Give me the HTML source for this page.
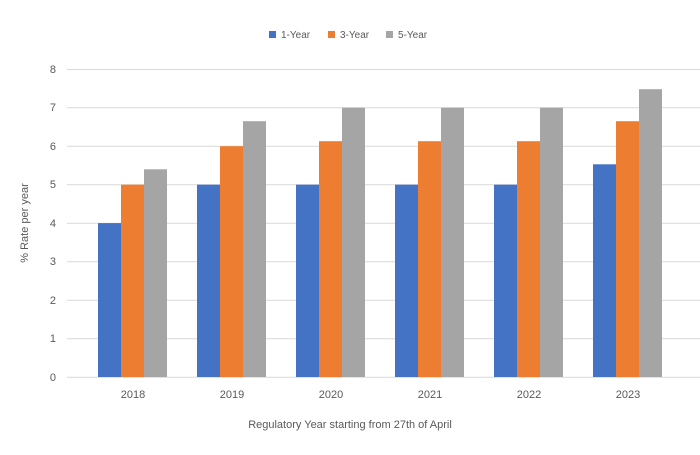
<!DOCTYPE html>
<html><head><meta charset="utf-8"><style>body{margin:0;background:#fff}</style></head>
<body>
<svg width="700" height="450" xmlns="http://www.w3.org/2000/svg" font-family="Liberation Sans, sans-serif">
<rect width="700" height="450" fill="#fff"/>
<g stroke="#d9d9d9" stroke-width="1">
<line x1="67" x2="700" y1="69.5" y2="69.5"/><line x1="67" x2="700" y1="107.8" y2="107.8"/>
<line x1="67" x2="700" y1="146.3" y2="146.3"/><line x1="67" x2="700" y1="184.8" y2="184.8"/>
<line x1="67" x2="700" y1="223.3" y2="223.3"/><line x1="67" x2="700" y1="261.8" y2="261.8"/>
<line x1="67" x2="700" y1="300.3" y2="300.3"/><line x1="67" x2="700" y1="338.8" y2="338.8"/>
<line x1="67" x2="700" y1="377.3" y2="377.3"/>
</g>
<g font-size="11" fill="#595959" text-anchor="end">
<text x="56" y="73">8</text><text x="56" y="111">7</text><text x="56" y="150">6</text><text x="56" y="188">5</text>
<text x="56" y="227">4</text><text x="56" y="265">3</text><text x="56" y="304">2</text><text x="56" y="342">1</text><text x="56" y="381">0</text>
</g>
<g>
<rect x="98" y="223.1" width="23" height="153.9" fill="#4472c4"/>
<rect x="121" y="184.65" width="23" height="192.35" fill="#ed7d31"/>
<rect x="144" y="169.3" width="23" height="207.7" fill="#a5a5a5"/>

<rect x="197" y="184.65" width="23" height="192.35" fill="#4472c4"/>
<rect x="220" y="146.2" width="23" height="230.8" fill="#ed7d31"/>
<rect x="243" y="121.2" width="23" height="255.8" fill="#a5a5a5"/>

<rect x="296" y="184.65" width="23" height="192.35" fill="#4472c4"/>
<rect x="319" y="141.2" width="23" height="235.8" fill="#ed7d31"/>
<rect x="342" y="107.7" width="23" height="269.3" fill="#a5a5a5"/>

<rect x="395" y="184.65" width="23" height="192.35" fill="#4472c4"/>
<rect x="418" y="141.2" width="23" height="235.8" fill="#ed7d31"/>
<rect x="441" y="107.7" width="23" height="269.3" fill="#a5a5a5"/>

<rect x="494" y="184.65" width="23" height="192.35" fill="#4472c4"/>
<rect x="517" y="141.2" width="23" height="235.8" fill="#ed7d31"/>
<rect x="540" y="107.7" width="23" height="269.3" fill="#a5a5a5"/>

<rect x="593" y="164.3" width="23" height="212.7" fill="#4472c4"/>
<rect x="616" y="121.2" width="23" height="255.8" fill="#ed7d31"/>
<rect x="639" y="89.2" width="23" height="287.8" fill="#a5a5a5"/>
</g>
<g font-size="11" fill="#595959" text-anchor="middle">
<text x="133" y="398">2018</text><text x="232" y="398">2019</text><text x="331" y="398">2020</text>
<text x="430" y="398">2021</text><text x="529" y="398">2022</text><text x="628" y="398">2023</text>
<text x="350" y="428">Regulatory Year starting from 27th of April</text>
<text transform="translate(28,223) rotate(-90)">% Rate per year</text>
</g>
<g font-size="10" fill="#595959">
<rect x="269" y="31" width="7" height="7" fill="#4472c4"/><text x="281" y="38">1-Year</text>
<rect x="328" y="31" width="7" height="7" fill="#ed7d31"/><text x="340" y="38">3-Year</text>
<rect x="386" y="31" width="7" height="7" fill="#a5a5a5"/><text x="398" y="38">5-Year</text>
</g>
</svg>
</body></html>
